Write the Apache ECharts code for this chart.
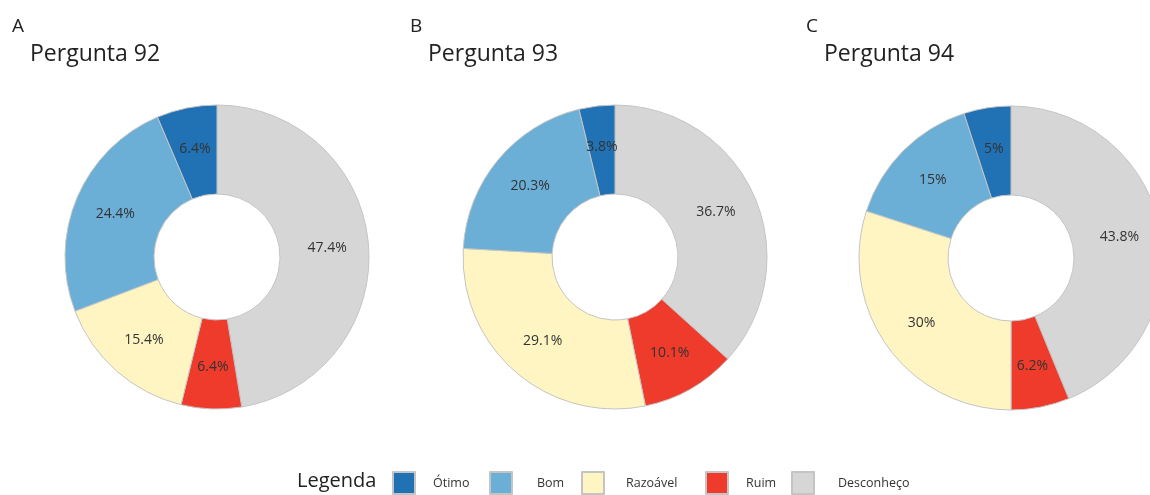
<!DOCTYPE html>
<html>
<head>
<meta charset="utf-8">
<script src="https://cdn.jsdelivr.net/npm/echarts@6/dist/echarts.min.js"></script>
<style>
  html, body { margin: 0; padding: 0; background: #fff; }
  #main { width: 1150px; height: 495px; }
</style>
</head>
<body>
<div id="main"></div>
<script>
// categorias na ordem horária a partir do topo
var categorias = ['Desconheço', 'Ruim', 'Razoável', 'Bom', 'Ótimo'];
var legendaOrdem = ['Ótimo', 'Bom', 'Razoável', 'Ruim', 'Desconheço'];
var cores = ['#d6d6d6', '#ee3b2b', '#fff5c2', '#6baed6', '#2171b5'];

var letras = ['A', 'B', 'C'];
var perguntas = ['Pergunta 92', 'Pergunta 93', 'Pergunta 94'];
var p92 = [47.4, 6.4, 15.4, 24.4, 6.4];
var p93 = [36.7, 10.1, 29.1, 20.3, 3.8];
var p94 = [43.8, 6.2, 30, 15, 5];
var valores = [p92, p93, p94];

var centros = [[217, 257], [615, 257], [1011, 258]];
var titulosX = [12, 410, 806];

// posição de cada item da legenda (quadrado, texto)
var legQuadX = [392, 489, 581, 705, 791];
var legTextoX = [432, 536, 625, 745, 837];

var fonte = 'Open Sans';
var chart = echarts.init(document.getElementById('main'));

var titles = [];
var series = [];
valores.forEach(function (vals, i) {
  titles.push({
    text: letras[i],
    left: titulosX[i], top: 17, padding: 0,
    textStyle: { fontFamily: fonte, fontSize: 19, fontWeight: 'normal', color: '#222' }
  });
  titles.push({
    text: perguntas[i],
    left: titulosX[i] + 18, top: 43, padding: 0,
    textStyle: { fontFamily: fonte, fontSize: 23, fontWeight: 'normal', color: '#222' }
  });
  series.push({
    type: 'pie',
    name: perguntas[i],
    center: centros[i],
    radius: [63, 152],
    startAngle: 90,
    clockwise: true,
    avoidLabelOverlap: false,
    itemStyle: { borderColor: '#c4c4c4', borderWidth: 1 },
    label: {
      show: true,
      position: 'inside',
      formatter: '{c}%',
      fontFamily: fonte,
      fontSize: 14,
      color: '#333'
    },
    labelLine: { show: false },
    emphasis: { disabled: true },
    data: categorias.map(function (c, k) {
      return { name: c, value: vals[k], itemStyle: { color: cores[k] } };
    })
  });
});

titles.push({
  text: 'Legenda',
  left: 297, top: 471, padding: 0,
  textStyle: { fontFamily: fonte, fontSize: 20, fontWeight: 'normal', color: '#222' }
});

var legends = legendaOrdem.map(function (nome, k) {
  return {
    data: [nome],
    left: legQuadX[k], top: 471,
    padding: 0,
    icon: 'rect',
    itemWidth: 22, itemHeight: 22,
    selectedMode: false,
    textStyle: {
      fontFamily: fonte, fontSize: 12.5, color: '#333',
      padding: [0, 0, 0, legTextoX[k] - legQuadX[k] - 27]
    }
  };
});

var option = {
  animation: false,
  title: titles,
  legend: legends,
  series: series
};
chart.setOption(option);
</script>
</body>
</html>
